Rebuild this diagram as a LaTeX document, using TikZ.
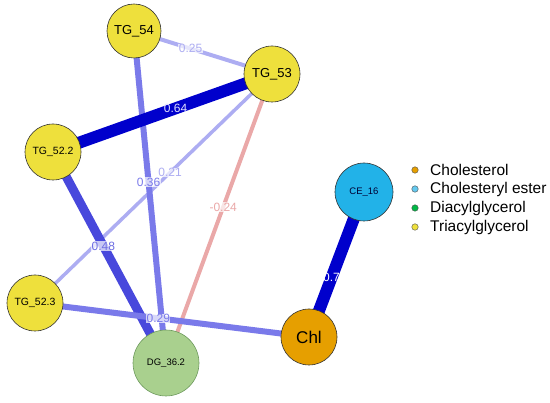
\documentclass[tikz,border=0pt]{standalone}
\usepackage{fontspec}
\setmainfont{Liberation Sans}
\usepackage{tikz}

\definecolor{tgyellow}{HTML}{EEE03C}
\definecolor{dggreen}{HTML}{A9D08E}
\definecolor{dgborder}{HTML}{6E9A5E}
\definecolor{chlorange}{HTML}{E69F00}
\definecolor{ceblue}{HTML}{22B2E8}
\definecolor{edgedark}{HTML}{0000CC}
\definecolor{edgemid}{HTML}{4848DC}
\definecolor{edgesoft}{HTML}{7A7AEA}
\definecolor{edgelight}{HTML}{ADADF2}
\definecolor{edgepink}{HTML}{EAA8A8}

\pgfdeclarelayer{edges}
\pgfsetlayers{edges,main}

\tikzset{
	lipid/.style={circle, draw=black!80, line width=0.6pt, inner sep=0pt, minimum size=#1},
	corr/.style={draw=#1},
	corrlab/.style={font=\fontsize{12}{12}\selectfont, text=#1, inner sep=0.5pt, fill=white, fill opacity=0.7, text opacity=1},
	darklab/.style={font=\fontsize{12}{12}\selectfont, text=#1, inner sep=0.5pt},
	legdot/.style={circle, draw=black!70, line width=0.4pt, inner sep=0pt, minimum size=6.5pt, fill=#1},
	legtext/.style={anchor=west, font=\fontsize{15.5}{15.5}\selectfont, inner sep=0pt}
}

\begin{document}
\begin{tikzpicture}[x=1pt, y=-1pt]
					\useasboundingbox (0,0) rectangle (550,403);
					
					% Define lipid nodes
					\node[lipid=54pt, fill=tgyellow, font=\fontsize{13}{13}\selectfont] (tg54) at (134,31) {TG\_54};
					\node[lipid=56pt, fill=tgyellow, font=\fontsize{13}{13}\selectfont] (tg53) at (272,74) {TG\_53};
					\node[lipid=56pt, fill=tgyellow, font=\fontsize{10.5}{10.5}\selectfont] (tg522) at (53,152) {TG\_52.2};
					\node[lipid=56pt, fill=tgyellow, font=\fontsize{10.5}{10.5}\selectfont] (tg523) at (35,303) {TG\_52.3};
					\node[lipid=66pt, fill=dggreen, draw=dgborder, font=\fontsize{9.5}{9.5}\selectfont] (dg362) at (166,363) {DG\_36.2};
					\node[lipid=56pt, fill=chlorange, font=\fontsize{17}{17}\selectfont] (chl) at (309,337) {Chl};
					\node[lipid=58pt, fill=ceblue, text=black!80!blue, font=\fontsize{9.5}{9.5}\selectfont] (ce16) at (364,192) {CE\_16};
					
					% Draw the correlation edges
					\begin{pgfonlayer}{edges}
					\draw[corr=edgelight, line width=4pt] (tg54.center) -- (tg53.center);
					\draw[corr=edgelight, line width=3.5pt] (tg53.center) -- (tg523.center);
					\draw[corr=edgesoft, line width=6pt] (tg54.center) -- (dg362.center);
					\draw[corr=edgepink, line width=4pt] (tg53.center) -- (dg362.center);
					\draw[corr=edgemid, line width=9pt] (tg522.center) -- (dg362.center);
					\draw[corr=edgesoft, line width=6pt] (tg523.center) -- (chl.center);
					\draw[corr=edgedark, line width=12pt] (tg522.center) -- (tg53.center);
					\draw[corr=edgedark, line width=12pt] (chl.center) -- (ce16.center);
					
					% Edge labels
					\path (tg54.center) -- (tg53.center) node[pos=0.41, corrlab=edgelight] (lab25) {0.25};
					\path (tg53.center) -- (tg523.center) node[pos=0.43, corrlab=edgelight] (lab21) {0.21};
					\path (tg54.center) -- (dg362.center) node[pos=0.455, corrlab=edgesoft] (lab36) {0.36};
					\path (tg53.center) -- (dg362.center) node[pos=0.46, corrlab=edgepink] (lab24) {-0.24};
					\path (tg522.center) -- (dg362.center) node[pos=0.445, corrlab=edgemid!80!white] (lab48) {0.48};
					\path (tg523.center) -- (chl.center) node[pos=0.45, corrlab=edgesoft] (lab29) {0.29};
					\path (tg522.center) -- (tg53.center) node[pos=0.56, darklab=blue!12] (lab64) {0.64};
					\path (chl.center) -- (ce16.center) node[pos=0.41, darklab=white] (lab7) {0.7};
					\end{pgfonlayer}
					
					% Legend
					\node[legdot=chlorange] (dotchl) at (415,170) {};
					\node[legdot=ceblue!70!white] (dotce) at (415,189) {};
					\node[legdot=green!45!teal] (dotdg) at (415,208) {};
					\node[legdot=tgyellow] (dottg) at (415,227) {};
					\node[legtext] (legchl) at (430,170) {Cholesterol};
					\node[legtext] (legce) at (430,189) {Cholesteryl ester};
					\node[legtext] (legdg) at (430,208) {Diacylglycerol};
					\node[legtext] (legtg) at (430,227) {Triacylglycerol};
				\end{tikzpicture}
\end{document}
